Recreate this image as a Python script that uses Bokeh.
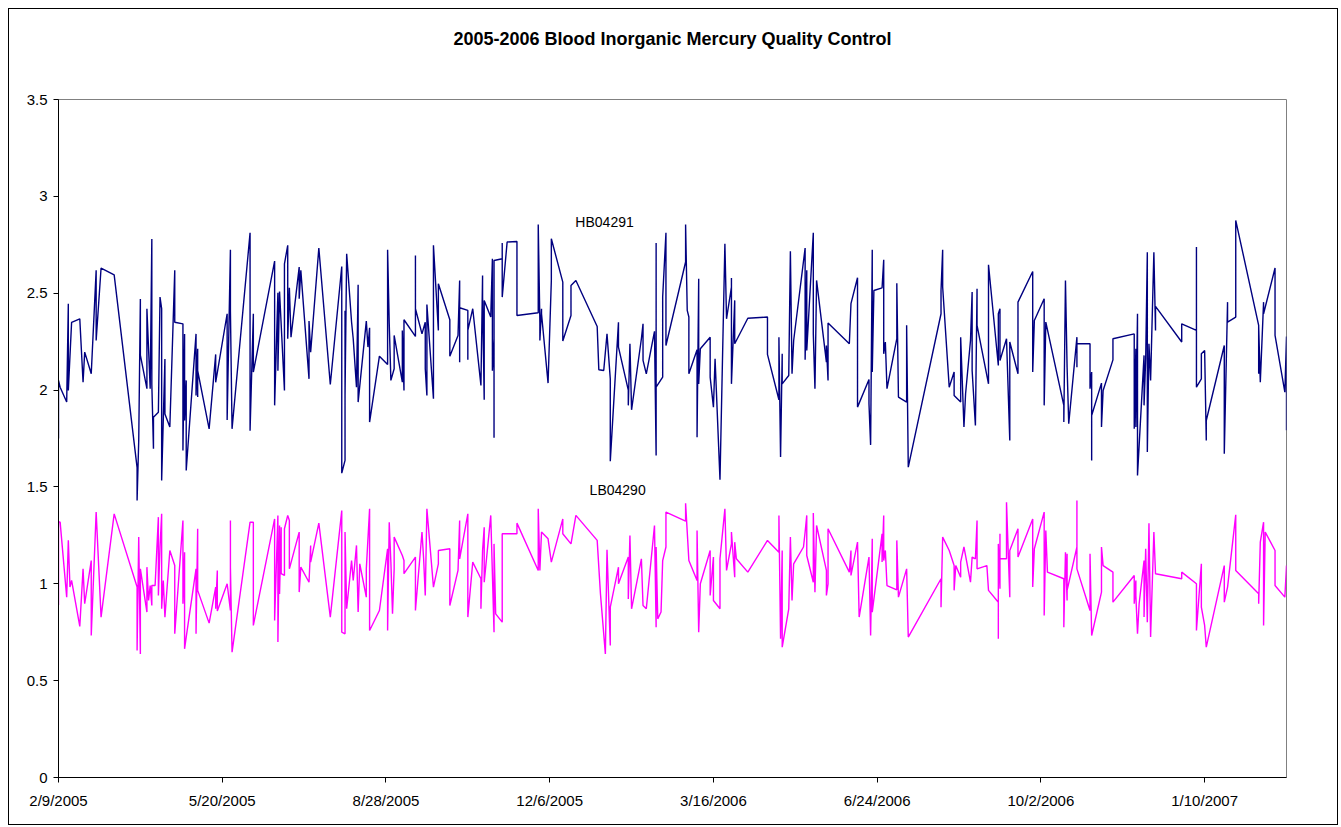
from datetime import datetime, timedelta
import pandas as pd
from bokeh.plotting import figure
from bokeh.models import Range1d, FixedTicker, Label, Title
from bokeh.embed import file_html
from bokeh.resources import INLINE

title_text = "2005-2006 Blood Inorganic Mercury Quality Control"
start_date = "2/9/2005"
end_date = "3/1/2007"
x_tick_labels = ["2/9/2005", "5/20/2005", "8/28/2005", "12/6/2005",
                 "3/16/2006", "6/24/2006", "10/2/2006", "1/10/2007"]
y_ticks = [0, 0.5, 1, 1.5, 2, 2.5, 3, 3.5]
y_tick_labels = ["0", "0.5", "1", "1.5", "2", "2.5", "3", "3.5"]

hb_name = "HB04291"
lb_name = "LB04290"

# days after 2/9/2005
hb_days = [0, 0, 1, 5, 6, 6, 8, 13, 15, 16, 20, 23, 23, 26, 34, 48, 48, 49, 50, 50, 54, 54, 56, 57, 57, 58, 58, 61, 62, 63, 63, 65, 65, 68,
           71, 71, 76, 76, 77, 77, 78, 78, 84, 84, 85, 85, 85, 92, 96, 96, 103, 103, 105, 105, 106, 117, 117, 119, 119, 132, 132, 134, 134, 135,
           138, 138, 140, 140, 141, 142, 147, 147, 148, 153, 153, 154, 159, 166, 173, 173, 175, 175, 175, 176, 179, 180, 182, 183, 183, 188, 189, 190, 190, 196, 201, 201, 202, 203, 205, 205,
           210, 210, 211, 211, 218, 218, 218, 222, 224, 224, 225, 225, 229, 229, 232, 232, 239, 239, 244, 245, 245, 245, 250, 250, 250, 253, 258, 259, 259, 260, 260, 264, 265, 265, 266, 266, 266, 271, 271, 271, 274,
           280, 280, 293, 293, 294, 294, 295, 295, 299, 301, 301, 308, 308, 313, 313, 316, 329, 330, 333, 335, 337, 337, 342,
           342, 348, 348, 349, 350, 356, 357, 357, 359, 364, 365, 365, 365, 369, 369, 371, 371, 383, 383, 384, 385, 385, 390, 390, 391, 391, 392, 398, 398, 400, 401, 404, 407, 408, 411,
           411, 411, 413, 413, 421, 433, 433, 440, 440, 441, 442, 442, 446, 447, 448, 449, 456, 456, 457, 457, 461, 461, 462, 463, 469, 469, 470, 470,
           483, 484, 488, 488, 495, 495, 496, 497, 497, 498, 503, 504, 504, 505, 506, 512, 512, 513, 518, 518, 519, 539, 539, 540, 540, 544, 547,
           547, 551, 551, 553, 554, 557, 558, 558, 560, 561, 561, 568, 568, 574, 574, 575, 575, 579, 581, 581, 586, 586, 595, 595, 596, 602, 602, 603, 614, 614, 615, 616,
           617, 622, 622, 622, 630, 630, 631, 631, 631, 637, 637, 638, 644, 644, 657, 657, 658, 658, 659, 659, 663, 663, 664, 665, 665, 666, 667, 669, 670, 670,
           686, 686, 695, 695, 695, 698, 698, 700, 701, 701, 712, 712, 714, 714, 719, 719, 733, 733, 733, 734, 736, 736, 743, 743, 749, 750, 750]
hb_values = [1.75, 2.05, 2.015, 1.938, 2.446, 1.998, 2.35, 2.368, 2.04, 2.196, 2.084, 2.618, 2.256, 2.63, 2.595, 1.6, 1.43, 1.74, 2.47, 2.18, 2.007, 2.42, 2.007, 2.78, 2.03, 1.697, 1.86, 1.886, 2.48, 2.42, 1.533, 2.16, 1.877, 1.809,
             2.618, 2.35, 2.342, 1.688, 2.29, 1.843, 2.05, 1.585, 2.29, 1.972, 2.213, 1.964, 2.1, 1.8, 2.184, 2.04, 2.394, 1.846, 2.724, 2.41, 1.8, 2.812, 1.79, 2.394, 2.093, 2.666, 1.921, 2.502, 2.1, 2.509,
             1.998, 2.652, 2.747, 2.265, 2.528, 2.273, 2.635, 2.471, 2.618, 2.058, 2.356, 2.196, 2.733, 2.029, 2.638, 1.571, 1.637, 2.41, 1.972, 2.704, 2.35, 2.265, 2.015, 2.544, 1.938, 2.356, 2.222, 2.322, 1.835, 2.175, 2.132, 2.724, 2.342, 2.05, 2.11, 2.282,
             2.041, 2.308, 1.998, 2.363, 2.277, 2.695, 2.42, 2.29, 2.35, 2.11, 1.972, 2.442, 1.955, 2.747, 2.308, 2.549, 2.363, 2.174, 2.282, 2.566, 2.144, 2.425, 2.411, 2.156, 2.308, 2.42, 2.024, 2.592, 2.48, 1.95, 2.463, 2.377, 2.678, 2.1, 2.265, 1.754, 2.669, 2.678, 2.759, 2.48, 2.764,
             2.767, 2.385, 2.399, 2.855, 2.35, 2.256, 2.42, 2.394, 2.036, 2.566, 2.781, 2.557, 2.253, 2.385, 2.54, 2.566, 2.328, 2.105, 2.101, 2.29, 2.058, 1.633, 2.35,
             2.222, 2.0, 1.921, 2.239, 1.898, 2.265, 2.342, 2.153, 2.084, 2.303, 1.662, 2.759, 2.015, 2.067, 2.48, 2.812, 2.23, 2.661, 2.855, 2.411, 2.377, 2.084, 2.208, 1.757, 2.575, 2.032, 2.213, 2.273, 2.067, 1.912, 2.161, 1.537, 2.755, 2.368, 2.532,
             2.578, 2.032, 2.463, 2.239, 2.371, 2.377, 2.184, 1.95, 2.273, 1.654, 2.187, 2.032, 2.075, 2.717, 2.084, 2.256, 2.733, 2.156, 2.618, 2.204, 2.812, 2.29, 2.007, 2.566, 2.144, 2.23, 2.05, 2.346,
             2.239, 2.446, 2.58, 1.912, 2.055, 1.929, 1.717, 2.724, 2.093, 2.514, 2.528, 2.673, 2.187, 2.248, 2.007, 2.265, 2.552, 1.964, 1.938, 2.334, 1.602, 2.394, 2.514, 2.724, 2.532, 2.015, 2.093,
             1.972, 1.938, 2.273, 1.809, 1.981, 2.256, 2.506, 2.101, 1.817, 2.523, 2.334, 2.032, 2.647, 2.127, 2.394, 2.42, 2.153, 2.265, 1.74, 2.248, 2.084, 2.454, 2.612, 2.093, 2.359, 2.471, 1.921, 2.351, 1.921, 1.835, 2.566, 2.118,
             1.826, 2.273, 2.118, 2.239, 2.239, 2.007, 2.093, 1.637, 1.869, 2.036, 1.809, 1.998, 2.156, 2.265, 2.29, 1.8, 2.213, 1.809, 2.394, 1.559, 2.179, 1.921, 2.162, 2.712, 1.68, 2.239, 2.05, 2.712, 2.308, 2.432,
             2.248, 2.342, 2.308, 2.738, 2.015, 2.058, 2.187, 2.204, 1.74, 1.843, 2.23, 1.671, 2.454, 2.351, 2.377, 2.876, 2.334, 2.084, 2.329, 2.041, 2.454, 2.394, 2.63, 2.282, 1.989, 2.277, 1.792]

lb_days = [0, 0, 1, 5, 6, 7, 8, 13, 15, 16, 20, 20, 23, 26, 34, 48, 48, 49, 50, 50, 54, 54, 55, 56, 57, 57, 59, 61, 61, 62, 63, 63, 64, 65, 68,
           71, 71, 76, 76, 77, 77, 78, 84, 84, 85, 85, 92, 96, 96, 97, 97, 103, 105, 105, 105, 106, 117, 119, 119, 132, 132, 134, 134, 135, 135,
           135, 136, 136, 138, 138, 140, 141, 141, 147, 147, 148, 153, 154, 154, 159, 166, 173, 173, 175, 175, 176, 179, 180, 182, 183, 184, 188, 188, 190, 190, 196, 201, 201, 202, 203, 204, 205, 205,
           210, 211, 211, 218, 218, 222, 223, 224, 225, 229, 232, 232, 239, 239, 244, 245, 245, 250, 250, 253, 258, 258, 259, 260, 260, 264, 266, 266, 267, 271, 271, 274,
           280, 280, 293, 293, 294, 295, 299, 301, 308, 308, 313, 316, 329, 331, 334, 335, 337, 337, 342,
           342, 348, 348, 349, 350, 356, 357, 359, 364, 365, 365, 366, 368, 369, 371, 371, 383, 383, 384, 385, 390, 390, 391, 392, 398, 398, 400, 400, 404, 404, 407, 408, 411,
           411, 413, 413, 414, 421, 433, 440, 440, 441, 442, 442, 446, 447, 448, 449, 455, 456, 457, 457, 461, 461, 462, 463, 469, 469, 470, 470,
           483, 484, 484, 488, 489, 495, 496, 497, 497, 503, 503, 504, 504, 505, 506, 512, 512, 513, 518, 519, 539, 539, 540, 544, 547, 547,
           548, 551, 551, 553, 557, 558, 560, 561, 561, 567, 568, 574, 574, 574, 575, 575, 575, 579, 579, 581, 581, 586, 586, 595, 595, 596, 602, 602, 603, 604, 614, 614, 615, 616,
           616, 616, 622, 622, 622, 630, 630, 631, 637, 637, 638, 644, 644, 657, 657, 658, 658, 659, 660, 663, 663, 664, 665, 666, 667, 669, 670,
           686, 686, 695, 695, 698, 698, 700, 701, 712, 712, 714, 719, 719, 733, 733, 734, 736, 736, 737, 743, 743, 749, 750]
lb_values = [0.89, 1.32, 1.318, 0.931, 1.224, 0.983, 1.017, 0.78, 1.077, 0.897, 1.12, 0.733, 1.37, 0.828, 1.361, 0.983, 0.656, 1.241, 0.638, 1.077, 0.854, 1.086, 0.914, 0.991, 0.888, 0.991, 0.991, 1.344, 0.94, 1.19, 1.361, 0.871, 1.017, 0.828, 1.172,
             1.094, 0.742, 1.327, 0.897, 1.163, 0.664, 0.725, 1.077, 0.742, 1.284, 0.966, 0.797, 0.983, 0.871, 1.069, 0.859, 1.0, 0.862, 1.327, 1.086, 0.647, 1.318, 1.318, 0.785, 1.335, 0.81, 1.353, 0.699, 1.301, 1.052,
             0.948, 1.292, 1.052, 1.043, 1.284, 1.353, 1.327, 1.077, 1.267, 0.957, 1.086, 1.008, 1.198, 1.112, 1.313, 0.828, 1.378, 0.75, 0.742, 1.267, 0.871, 1.12, 1.017, 1.198, 0.854, 1.103, 0.931, 1.077, 1.387, 0.759, 0.862, 1.181, 0.759, 1.318, 1.112, 0.845, 1.077, 1.241,
             1.146, 1.12, 1.052, 1.138, 0.862, 1.267, 1.129, 0.94, 1.387, 0.983, 1.103, 1.172, 1.181, 0.888, 1.069, 1.327, 1.129, 1.361, 0.828, 1.112, 1.026, 0.871, 1.172, 1.292, 1.008, 1.353, 0.75, 1.206, 0.845, 0.802, 1.258, 1.258,
             1.258, 1.313, 1.069, 1.387, 1.069, 1.267, 1.232, 1.112, 1.335, 1.258, 1.206, 1.353, 1.224, 0.948, 0.638, 1.175, 0.681, 0.879, 1.086,
             1.0, 1.138, 0.922, 1.249, 0.871, 1.129, 0.888, 0.871, 1.301, 0.776, 1.19, 0.819, 0.854, 1.12, 1.19, 1.37, 1.323, 1.416, 1.267, 1.12, 1.017, 1.275, 0.75, 1.0, 1.172, 0.94, 1.138, 0.914, 0.871, 1.129, 1.387, 1.069, 1.206,
             1.267, 1.034, 1.215, 1.129, 1.06, 1.224, 1.163, 1.353, 0.716, 1.172, 0.673, 0.871, 1.241, 0.914, 1.103, 1.19, 1.267, 1.353, 1.146, 1.008, 1.365, 0.957, 1.301, 1.069, 0.94, 1.0, 1.284,
             1.06, 1.172, 1.043, 1.215, 0.828, 1.138, 0.733, 1.232, 0.854, 1.258, 1.112, 1.353, 1.12, 1.172, 0.991, 0.969, 1.224, 0.931, 1.077, 0.725, 1.026, 0.879, 1.241, 1.172, 1.094, 0.966,
             1.094, 1.034, 1.112, 1.19, 1.008, 1.138, 1.129, 1.327, 1.077, 1.094, 0.966, 0.905, 0.716, 1.206, 0.974, 1.258, 1.129, 1.129, 1.421, 0.931, 1.172, 1.284, 1.138, 1.335, 0.983, 1.181, 1.37, 0.836, 1.275, 1.06, 1.026, 0.776, 1.163, 0.914,
             1.155, 0.966, 1.19, 1.43, 1.077, 0.862, 1.155, 0.733, 0.957, 1.19, 1.094, 1.06, 0.905, 1.043, 0.897, 1.017, 0.94, 0.742, 0.897, 1.12, 0.828, 1.181, 0.802, 1.313, 0.725, 1.267, 1.052,
             1.026, 1.06, 1.0, 0.759, 1.103, 0.879, 0.785, 0.673, 1.094, 0.905, 0.983, 1.356, 1.069, 0.948, 0.897, 1.215, 1.318, 0.785, 1.267, 1.172, 0.991, 0.931, 1.094]

assert len(hb_days) == len(hb_values), (len(hb_days), len(hb_values))
assert len(lb_days) == len(lb_values), (len(lb_days), len(lb_values))

FONT = "Liberation Sans"
t0 = pd.to_datetime(start_date, format="%m/%d/%Y")
t1 = pd.to_datetime(end_date, format="%m/%d/%Y")


def to_dt(days):
    return [t0 + pd.Timedelta(days=d) for d in days]


def ms(ts):
    return ts.value // 10**6


p = figure(width=1330, height=817, x_axis_type="datetime",
           x_range=Range1d(t0, t1), y_range=Range1d(0, 3.5),
           output_backend="svg", toolbar_location=None,
           min_border_left=49, min_border_right=53,
           min_border_top=90, min_border_bottom=49)
p.styles = {"border": "1px solid black", "margin-left": "8px", "margin-top": "8px"}
p.background_fill_color = "white"
p.border_fill_color = "white"
p.outline_line_color = "#808080"
p.outline_line_width = 1
p.xgrid.visible = False
p.ygrid.visible = False

# main title (outer), plus an invisible spacer title next to the plot area
p.title.text = title_text
p.title.align = "center"
p.title.text_font = FONT
p.title.text_font_size = "18px"
p.title.text_font_style = "bold"
p.title.text_color = "black"
p.title.standoff = 2
p.add_layout(Title(text=" ", text_font_size="1px", standoff=47), "above")

p.line(to_dt(hb_days), hb_values, line_color="#000080", line_width=1.4)
p.line(to_dt(lb_days), lb_values, line_color="#FF00FF", line_width=1.4)

tick_ts = [pd.to_datetime(s, format="%m/%d/%Y") for s in x_tick_labels]
p.xaxis.ticker = FixedTicker(ticks=[ms(t) for t in tick_ts], minor_ticks=[])
p.xaxis.major_label_overrides = {ms(t): s for t, s in zip(tick_ts, x_tick_labels)}
p.yaxis.ticker = FixedTicker(ticks=y_ticks, minor_ticks=[])
p.yaxis.major_label_overrides = {v: s for v, s in zip(y_ticks, y_tick_labels)}

for ax in (p.xaxis[0], p.yaxis[0]):
    ax.axis_line_color = "black"
    ax.axis_line_width = 1
    ax.major_tick_line_color = "black"
    ax.major_tick_out = 5
    ax.major_tick_in = 0
    ax.minor_tick_line_color = None
    ax.major_label_text_font = FONT
    ax.major_label_text_font_size = "15px"
    ax.major_label_text_color = "black"
p.xaxis.major_label_standoff = 9
p.yaxis.major_label_standoff = 6

p.add_layout(Label(x=t0 + pd.Timedelta(days=333.5), y=2.87, text=hb_name,
                   text_align="center", text_baseline="middle", text_font=FONT,
                   text_font_size="14px", text_color="black"))
p.add_layout(Label(x=t0 + pd.Timedelta(days=341.5), y=1.482, text=lb_name,
                   text_align="center", text_baseline="middle", text_font=FONT,
                   text_font_size="14px", text_color="black"))

open("out.html", "w").write(file_html(p, INLINE))
